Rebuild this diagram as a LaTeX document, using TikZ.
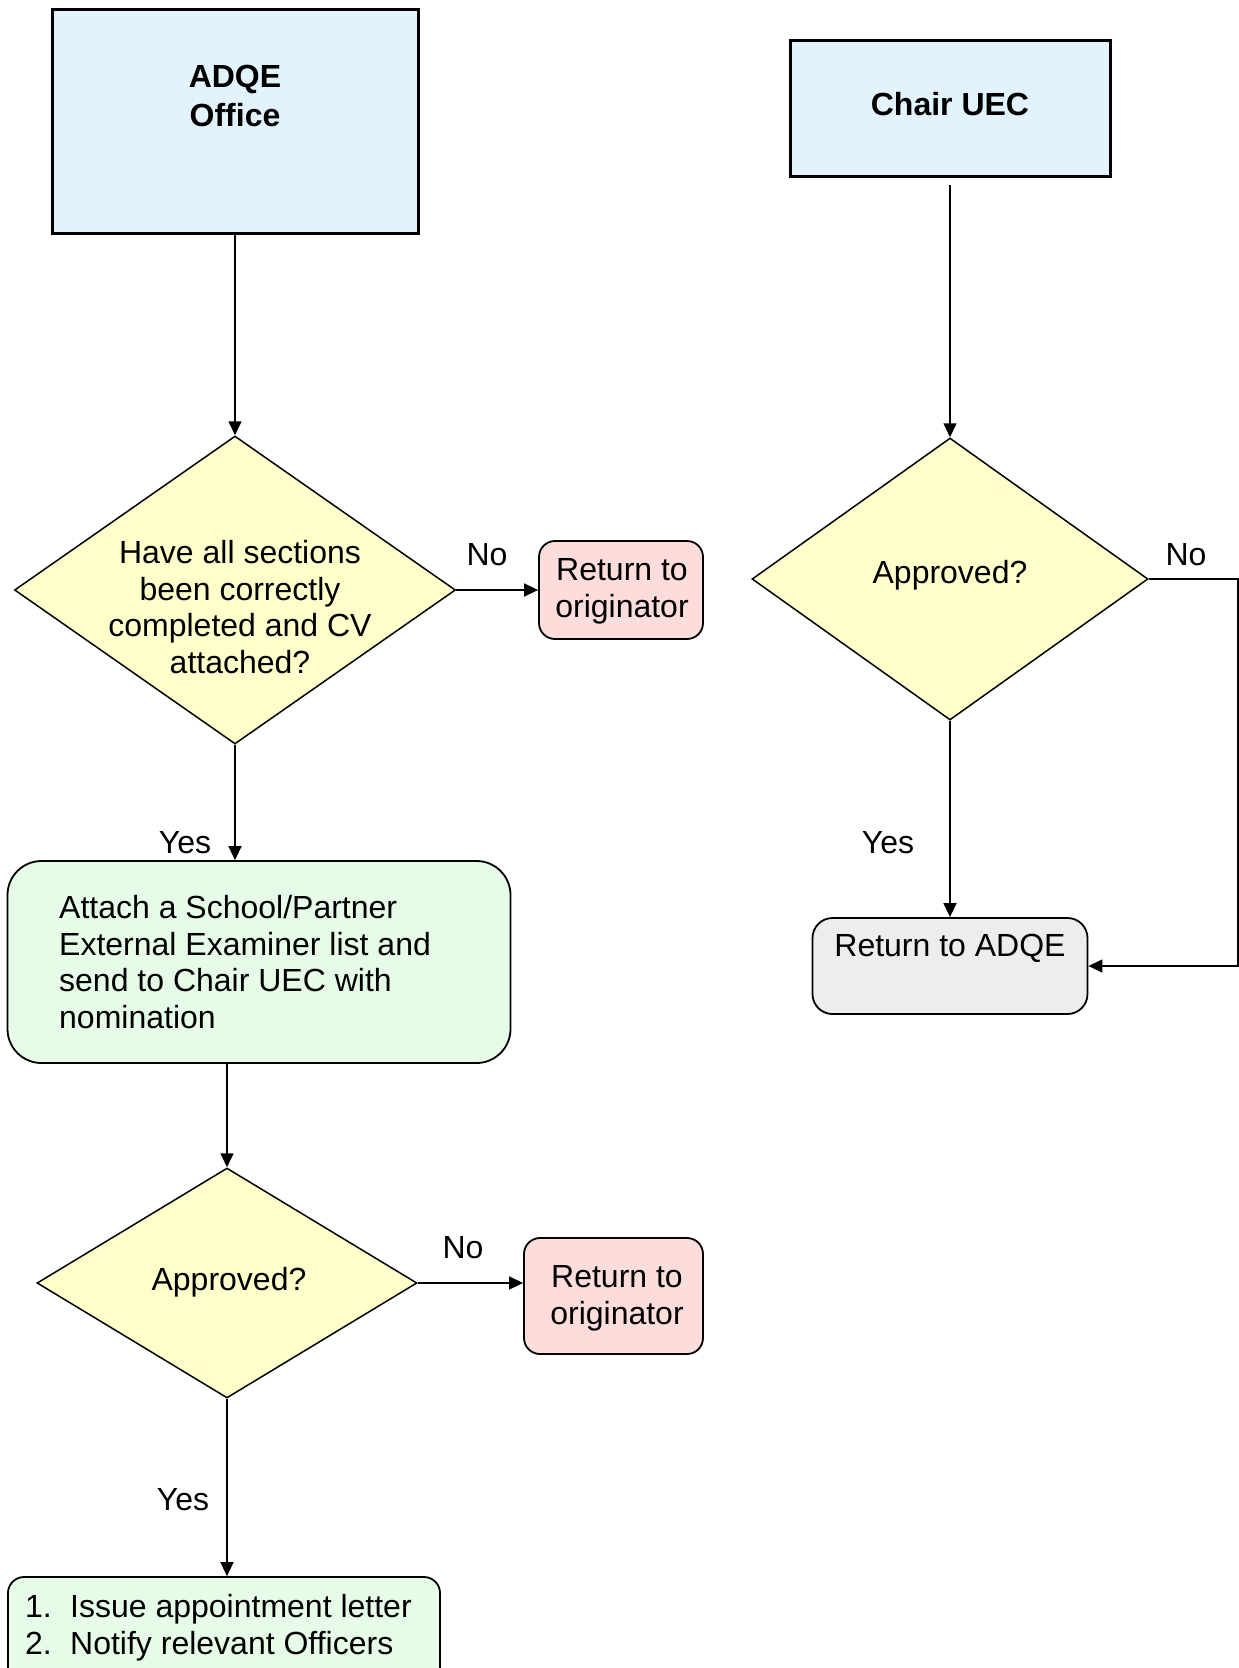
\documentclass[tikz,border=0pt]{standalone}
\usepackage{fontspec}
\setmainfont{Liberation Sans}
\usetikzlibrary{shapes.geometric,arrows.meta,calc}
\definecolor{boxblue}{HTML}{E2F3FD}
\definecolor{dyellow}{HTML}{FFFFCC}
\definecolor{rpink}{HTML}{FDDCDC}
\definecolor{agreen}{HTML}{E6FCE9}
\definecolor{rgrey}{HTML}{EDEDED}
\begin{document}
\begin{tikzpicture}[x=1pt,y=-1pt,
  font=\fontsize{32}{36.7}\selectfont,
  lane/.style={draw, line width=3pt, fill=boxblue, inner sep=0pt},
  dec/.style={diamond, draw, line width=1.5pt, fill=dyellow, inner sep=0pt},
  retbox/.style={rectangle, rounded corners=16pt, draw, line width=1.8pt, fill=rpink, inner sep=0pt},
  actbox/.style={rectangle, draw, line width=1.8pt, fill=agreen, inner sep=0pt},
  conn/.style={line width=1.5pt, -{Triangle[length=14pt,width=13pt]}},
  txt/.style={inner sep=0pt, align=center},
  lbl/.style={inner sep=0pt}]
\clip (0,0) rectangle (1239,1668);
\fill[white] (0,0) rectangle (1239,1668);

% swimlane heads
\node[lane, minimum width=366pt, minimum height=224pt] (adqe) at (235,121) {};
\node[txt, font=\fontsize{32}{38.5}\selectfont\bfseries] (adqet) at (235,96) {ADQE\\Office};
\node[lane, minimum width=320pt, minimum height=136pt] (chair) at (950,108) {};
\node[txt, font=\fontsize{32}{36.7}\selectfont\bfseries] (chairt) at (950,104) {Chair UEC};

% left column
\node[dec, minimum width=441pt, minimum height=308pt] (d1) at (235,590) {};
\node[txt] (d1t) at (240,607) {Have all sections\\been correctly\\completed and CV\\attached?};
\node[retbox, minimum width=164pt, minimum height=98pt] (r1) at (621,590) {};
\node[txt] (r1t) at (622,591.5) {Return to\\originator};

\node[actbox, rounded corners=34pt, minimum width=503pt, minimum height=202pt] (g1) at (259,962) {};
\node[txt, align=left, anchor=west] (g1t) at (59,962) {Attach a School/Partner\\External Examiner list and\\send to Chair UEC with\\nomination};

\node[dec, minimum width=380pt, minimum height=230pt] (d3) at (227,1283) {};
\node[txt] (d3t) at (229,1282) {Approved?};
\node[retbox, minimum width=179pt, minimum height=116pt] (r2) at (613.5,1296) {};
\node[txt] (r2t) at (617,1298) {Return to\\originator};

\node[actbox, rounded corners=16pt, minimum width=432pt, minimum height=124pt] (g2) at (224,1639) {};
\node[txt, align=left, anchor=west] (g2t) at (25,1628) {\makebox[45pt][l]{1.}Issue appointment letter\\\makebox[45pt][l]{2.}Notify relevant Officers};

% right column
\node[dec, minimum width=396pt, minimum height=282pt] (d2) at (950,579) {};
\node[txt] (d2t) at (950,575.5) {Approved?};
\node[rectangle, rounded corners=20pt, draw, line width=1.8pt, fill=rgrey, minimum width=275pt, minimum height=96pt] (r3) at (950,966) {};
\node[txt] (r3t) at (950,948.5) {Return to ADQE};
\coordinate (nx) at (1238,579);

% connectors
\draw[conn] (adqe.south) -- (d1.north);
\draw[conn, shorten <=7pt] (chair.south) -- (d2.north);
\draw[conn] (d1.east) -- (d1.east -| r1.west);
\draw[conn] (d1.south) -- (d1.south |- g1.north);
\draw[conn] (d3.north |- g1.south) -- (d3.north);
\draw[conn] (d3.east) -- (d3.east -| r2.west);
\draw[conn] (d3.south) -- (d3.south |- g2.north);
\draw[conn] (d2.south) -- (r3.north);
\draw[conn] (d2.east) -- (nx) |- (r3.east);

% labels
\node[lbl] (no1) at (487,554.5) {No};
\node[lbl] (yes1) at (185,842.5) {Yes};
\node[lbl] (no2) at (1186,554.5) {No};
\node[lbl] (yes2) at (888,842.5) {Yes};
\node[lbl] (no3) at (463,1247.5) {No};
\node[lbl] (yes3) at (183,1499.5) {Yes};
\end{tikzpicture}
\end{document}
